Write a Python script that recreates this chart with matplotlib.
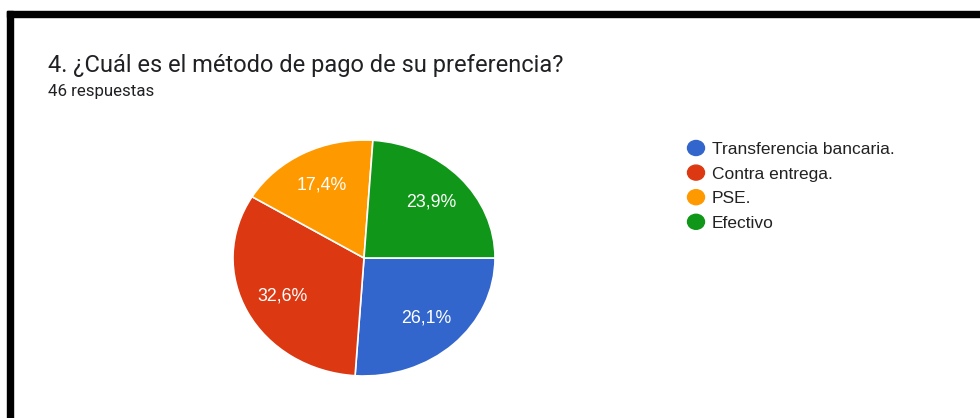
import matplotlib
matplotlib.use("Agg")
import matplotlib.pyplot as plt
from matplotlib.patches import Rectangle, Ellipse

labels = ["Transferencia bancaria.", "Contra entrega.", "PSE.", "Efectivo"]
counts = [12, 15, 8, 11]
colors = ["#3366CC", "#DC3912", "#FF9900", "#109618"]
title = "4. ¿Cuál es el método de pago de su preferencia?"
subtitle = "46 respuestas"

W, H = 980, 418
fig = plt.figure(figsize=(W / 100, H / 100), dpi=100)
fig.patch.set_facecolor("white")

# black frame (top and left edges)
fig.patches.append(Rectangle((7 / W, 1 - 17 / H), 1 - 7 / W, 6 / H,
                             transform=fig.transFigure, color="black", zorder=5))
fig.patches.append(Rectangle((7 / W, 0), 6 / W, 1 - 11 / H,
                             transform=fig.transFigure, color="black", zorder=5))

fig.text(48 / W, 1 - 72 / H, title, fontsize=17, family="Roboto",
         color="#202124", va="baseline")
fig.text(48 / W, 1 - 96 / H, subtitle, fontsize=12.2, family="Roboto",
         color="#202124", va="baseline")

# pie axes: center (364, 258), rx 131, ry 118
cx, cy, rx, ry = 364, 258, 131, 118
ax = fig.add_axes([(cx - rx) / W, 1 - (cy + ry) / H, 2 * rx / W, 2 * ry / H])
wedges, texts, autotexts = ax.pie(
    counts, colors=colors, startangle=0, counterclock=False,
    autopct=lambda p: f"{p:.1f}%".replace(".", ","), pctdistance=0.7,
    wedgeprops=dict(edgecolor="white", linewidth=1.2),
    textprops=dict(color="white", fontsize=12.8, family="Liberation Sans"))
ax.set_aspect("auto")
ax.set_xlim(-1, 1)
ax.set_ylim(-1, 1)

# legend
for i, (lab, col) in enumerate(zip(labels, colors)):
    y = 148 + i * 24.6
    fig.patches.append(Ellipse((696 / W, 1 - y / H), 17 / W, 15 / H,
                               transform=fig.transFigure, color=col))
    fig.text(712 / W, 1 - y / H, lab, fontsize=12.5, family="Liberation Sans",
             color="#222222", va="center_baseline")

fig.savefig("out.png", dpi=100, facecolor="white")
